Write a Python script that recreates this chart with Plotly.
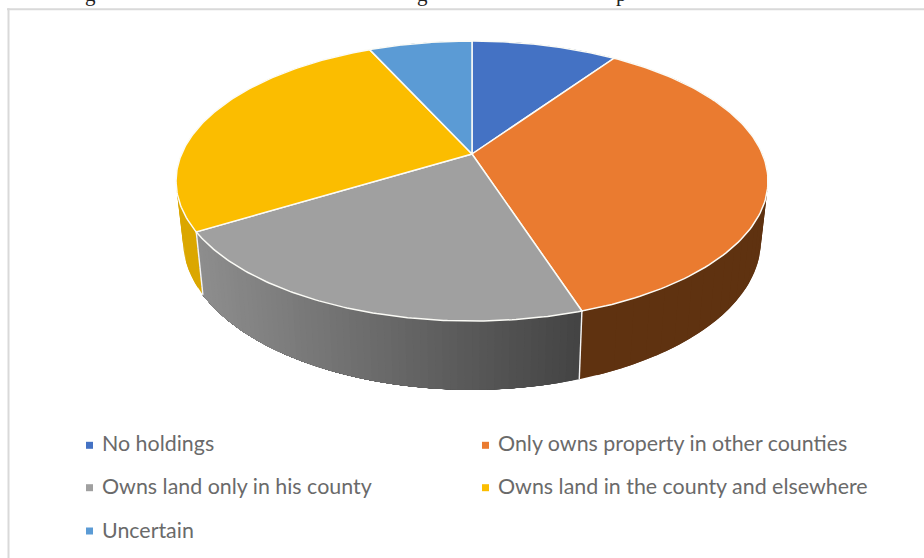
import numpy as np
import plotly.graph_objects as go

# Survey shares, percent of respondents
categories = [
    "No holdings",
    "Only owns property in other counties",
    "Owns land only in his county",
    "Owns land in the county and elsewhere",
    "Uncertain",
]
shares = [9.6, 35.4, 21.3, 26.9, 6.8]
top_colors = ["#4472c4", "#ea7b30", "#a0a0a0", "#fbbd00", "#5b9bd5"]
side_colors = ["#2f5597", "#5f3210", None, "#dba700", "#3f75a8"]

W, H = 924, 558
FONT = "Lato"

# Perspective disc: the hub sits above the centre of the projected ellipse
HUB_X, HUB_Y = 472.0, 154.0
TILT = 0.193
SCALE_X, SCALE_Y = 290.4, 134.8


def rim(theta):
    """Upper rim point for an angle measured clockwise from twelve o'clock."""
    u, v = np.sin(theta), np.cos(theta)
    w = 1 + TILT * v
    return HUB_X + SCALE_X * u / w, HUB_Y - SCALE_Y * v / w


def lower(x, y):
    """Lower rim point directly below an upper rim point."""
    return HUB_X + (x - HUB_X) * 0.976, 295 + (y - 232) * 1.065


def grey_shade(x):
    t = np.clip((x - 203) / (579 - 203), 0, 1)
    g = int(round(142 + (68 - 142) * t))
    return f"rgb({g},{g},{g})"


fig = go.Figure()


def polygon(xs, ys, fill, line=None, width=0.0):
    fig.add_trace(go.Scatter(
        x=xs, y=ys, mode="lines", fill="toself", fillcolor=fill,
        line=dict(color=line or fill, width=width),
        hoverinfo="skip", showlegend=False,
    ))


def wall(a, b, fill):
    """Wall of the disc between two angles."""
    t = np.linspace(a, b, 80)
    xs, ys = rim(t)
    bx, by = lower(xs, ys)
    polygon(np.concatenate([xs, bx[::-1]]), np.concatenate([ys, by[::-1]]), fill)


edges = np.radians(np.concatenate([[0], np.cumsum(shares)]) * 3.6)

# Flat-coloured walls: short overlapping pieces stay simple polygons
# where the wall turns out of view at the left and right extremes
for i in range(len(shares)):
    if side_colors[i] is not None:
        steps = np.linspace(edges[i], edges[i + 1], 41)
        for a, b in zip(steps[:-2], steps[2:]):
            wall(a, b, side_colors[i])

# Shaded wall: each band runs on to the far end, the next band paints over it
for i in range(len(shares)):
    if side_colors[i] is None:
        bands = np.linspace(edges[i], edges[i + 1], 65)
        for a in bands[:-1]:
            x, y = rim(a)
            wall(a, edges[i + 1], grey_shade(lower(x, y)[0]))

# White seams where neighbouring walls meet
for i in range(1, len(shares)):
    x0, y0 = rim(edges[i])
    if np.cos(edges[i]) < 0:
        bx, by = lower(x0, y0)
        fig.add_trace(go.Scatter(
            x=[x0, bx], y=[y0, by], mode="lines",
            line=dict(color="#f4f4f4", width=1.4),
            hoverinfo="skip", showlegend=False,
        ))

# Top face slices
for i in range(len(shares)):
    t = np.linspace(edges[i], edges[i + 1], 120)
    xs, ys = rim(t)
    polygon(
        np.concatenate([[HUB_X], xs, [HUB_X]]),
        np.concatenate([[HUB_Y], ys, [HUB_Y]]),
        top_colors[i], line="#fbfbf6", width=1.5,
    )

# Legend in two columns
legend_x = [89.5, 485.5, 89.5, 485.5, 89.5]
legend_y = [445.3, 445.3, 487.7, 487.7, 531.0]
label_y = [443.0, 443.0, 486.3, 486.3, 530.0]
for name, colour, lx, ly, ty in zip(categories, top_colors, legend_x, legend_y, label_y):
    fig.add_trace(go.Scatter(
        x=[lx], y=[ly], mode="markers",
        marker=dict(symbol="square", size=7, color=colour, line=dict(width=0)),
        name=name, showlegend=False, hoverinfo="skip",
    ))
    fig.add_annotation(
        x=lx + 10.5, y=ty, text=name, showarrow=False,
        xanchor="left", yanchor="middle",
        font=dict(family=FONT, size=21.4, color="#6a6a6a"),
    )

# Descenders of the caption line that runs off the top edge
for ch, cx in zip(["g", "g", "p"], [90.5, 422.5, 621.5]):
    fig.add_annotation(
        x=cx, xref="x", y=1 + 5.5 / H, yref="paper", text=ch, showarrow=False,
        xanchor="center", yanchor="middle",
        font=dict(family="Liberation Serif", size=21, color="#222222"),
    )

# Frame of the embedded chart
frame = dict(type="line", line=dict(color="#d9d9d9", width=2), layer="above")
fig.add_shape(x0=7, x1=W, y0=9.3, y1=9.3, **frame)
fig.add_shape(x0=8.5, x1=8.5, y0=8.3, y1=H, **frame)

fig.update_layout(
    width=W, height=H,
    margin=dict(l=0, r=0, t=0, b=0),
    paper_bgcolor="#ffffff", plot_bgcolor="#ffffff",
    xaxis=dict(range=[0, W], visible=False, fixedrange=True),
    yaxis=dict(range=[H, 0], visible=False, fixedrange=True),
    showlegend=False,
)

fig.write_html("out.html", config={"displayModeBar": False})
